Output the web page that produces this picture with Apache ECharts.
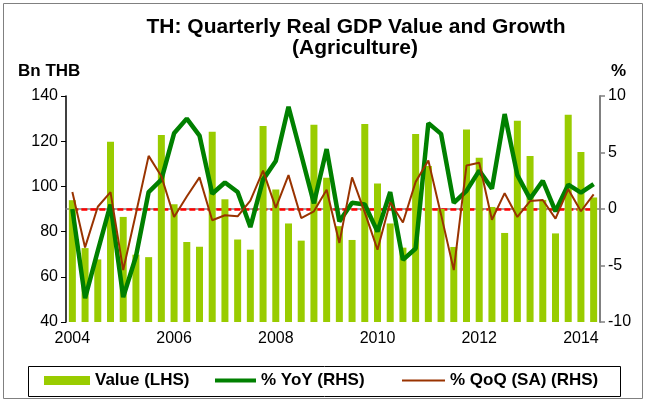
<!DOCTYPE html>
<html>
<head>
<meta charset="utf-8">
<script src="https://cdn.jsdelivr.net/npm/echarts@6/dist/echarts.min.js"></script>
<style>
  html, body { margin: 0; padding: 0; background: #fff; }
  #main { width: 646px; height: 402px; }
</style>
</head>
<body>
<div id="main"></div>
<script>
// quarters 2004Q1 .. 2014Q2
let quarters = [
  '2004Q1','2004Q2','2004Q3','2004Q4','2005Q1','2005Q2','2005Q3','2005Q4',
  '2006Q1','2006Q2','2006Q3','2006Q4','2007Q1','2007Q2','2007Q3','2007Q4',
  '2008Q1','2008Q2','2008Q3','2008Q4','2009Q1','2009Q2','2009Q3','2009Q4',
  '2010Q1','2010Q2','2010Q3','2010Q4','2011Q1','2011Q2','2011Q3','2011Q4',
  '2012Q1','2012Q2','2012Q3','2012Q4','2013Q1','2013Q2','2013Q3','2013Q4',
  '2014Q1','2014Q2'
]
// Bn THB (LHS)
let valueLhs = [
  93.9, 72.7, 67.7, 119.8, 86.5, 69.8, 68.7, 122.7,
  92.1, 75.4, 73.3, 124.2, 94.3, 76.5, 72.0, 126.7,
  98.6, 83.6, 76.0, 127.3, 103.8, 82.4, 76.3, 127.6,
  101.3, 83.6, 72.9, 123.2, 109.0, 90.0, 73.2, 125.2,
  112.7, 90.9, 79.4, 129.0, 113.5, 94.0, 79.2, 131.7,
  115.2, 95.1
]
// % YoY (RHS)
let yoy = [
  0.0, -7.9, -3.7, 0.4, -7.8, -4.2, 1.5, 2.6,
  6.7, 8.0, 6.5, 1.35, 2.35, 1.5, -1.6, 2.6,
  4.25, 9.05, 4.8, 0.5, 5.3, -1.1, 0.55, 0.4,
  -2.0, 1.5, -4.5, -3.5, 7.6, 6.65, 0.55, 1.6,
  3.4, 1.8, 8.4, 3.0, 0.9, 2.5, -0.2, 2.15,
  1.45, 2.2
]
// % QoQ (SA) (RHS)
let qoq = [
  1.5, -3.4, 0.2, 1.5, -5.4, -0.4, 4.7, 2.9,
  -0.7, 1.1, 2.8, -1.0, -0.55, -0.65, 0.75, 3.4,
  0.1, 3.0, -0.8, -0.2, 1.7, -3.0, 2.8, -0.3,
  -3.6, 0.6, -1.2, 2.4, 4.3, -0.5, -5.4, 3.85,
  4.1, -0.95, 1.4, -0.7, 0.7, 0.8, -0.85, 1.75,
  -0.2, 1.3
]
let yearLabels = ['2004', '2006', '2008', '2010', '2012', '2014']

let font = 'Arial, "Liberation Sans", sans-serif'
let barColor = '#99cc00'
let yoyColor = '#008000'
let qoqColor = '#993300'

let myChart = echarts.init(document.getElementById('main'))
let legendText = {fontSize: 17, fontWeight: 'bold', color: '#000'}
let option = {
  animation: false,
  textStyle: {fontFamily: font},
  grid: {left: 66, top: 96, width: 534, height: 226},
  graphic: [
    {type: 'rect', shape: {x: 3.5, y: 3.5, width: 639, height: 395}, style: {fill: 'none', stroke: '#808080', lineWidth: 1}},
    {type: 'text', x: 356, y: 27, style: {text: 'TH: Quarterly Real GDP Value and Growth', font: 'bold 21px ' + font, textAlign: 'center', textVerticalAlign: 'middle', fill: '#000'}},
    {type: 'text', x: 355, y: 48, style: {text: '(Agriculture)', font: 'bold 21px ' + font, textAlign: 'center', textVerticalAlign: 'middle', fill: '#000'}},
    {type: 'text', x: 18, y: 71, style: {text: 'Bn THB', font: 'bold 17px ' + font, textAlign: 'left', textVerticalAlign: 'middle', fill: '#000'}},
    {type: 'text', x: 611, y: 71, style: {text: '%', font: 'bold 17px ' + font, textAlign: 'left', textVerticalAlign: 'middle', fill: '#000'}},
    {type: 'rect', shape: {x: 28.5, y: 366.5, width: 592, height: 30}, style: {fill: 'none', stroke: '#000', lineWidth: 1}}
  ],
  legend: [
    {data: [{name: 'Value (LHS)', icon: 'rect'}], left: 44, top: 372, padding: 0, itemWidth: 46, itemHeight: 9, textStyle: legendText},
    {data: [{name: '% YoY (RHS)', icon: 'rect'}], left: 215, top: 372, padding: 0, itemWidth: 41, itemHeight: 4, textStyle: legendText},
    {data: [{name: '% QoQ (SA) (RHS)', icon: 'rect'}], left: 402, top: 372, padding: 0, itemWidth: 43, itemHeight: 2, textStyle: legendText}
  ],
  xAxis: {
    type: 'category',
    data: quarters,
    boundaryGap: true,
    axisLine: {lineStyle: {color: '#808080', width: 1.5}},
    axisTick: {interval: (i) => i % 4 === 0, length: 5, lineStyle: {color: '#606060'}},
    axisLabel: {
      interval: (i, v) => yearLabels.indexOf(v.slice(0, 4)) >= 0 && v.slice(4) === 'Q1',
      formatter: (v) => v.slice(0, 4),
      fontSize: 16, color: '#000', margin: 9
    },
    splitLine: {show: false}
  },
  yAxis: [
    {
      type: 'value', min: 40, max: 140, interval: 20,
      axisLine: {show: true, lineStyle: {color: '#000', width: 1.5}},
      axisTick: {show: true, length: 5, lineStyle: {color: '#000'}},
      axisLabel: {fontSize: 16, color: '#000', margin: 8},
      splitLine: {show: false}
    },
    {
      type: 'value', min: -10, max: 10, interval: 5, position: 'right',
      axisLine: {show: true, lineStyle: {color: '#808080', width: 2}},
      axisTick: {show: true, length: 5, lineStyle: {color: '#808080', width: 1.5}},
      axisLabel: {fontSize: 16, color: '#000', margin: 8},
      splitLine: {show: false}
    }
  ],
  series: [
    {
      name: 'Value (LHS)', type: 'bar', yAxisIndex: 0, barWidth: 7,
      itemStyle: {color: barColor},
      data: valueLhs
    },
    {
      name: '% YoY (RHS)', type: 'line', yAxisIndex: 1, symbol: 'none', z: 3,
      lineStyle: {color: yoyColor, width: 4.5},
      itemStyle: {color: yoyColor},
      data: yoy,
      markLine: {
        silent: true, symbol: 'none', label: {show: false}, z: 2,
        lineStyle: {color: '#ff0000', width: 2.5, type: [6, 3]},
        data: [[{coord: [0, 0]}, {coord: [quarters.length - 1, 0]}]]
      }
    },
    {
      name: '% QoQ (SA) (RHS)', type: 'line', yAxisIndex: 1, symbol: 'none', z: 4,
      lineStyle: {color: qoqColor, width: 2},
      itemStyle: {color: qoqColor},
      data: qoq
    }
  ]
}
myChart.setOption(option)
</script>
</body>
</html>
